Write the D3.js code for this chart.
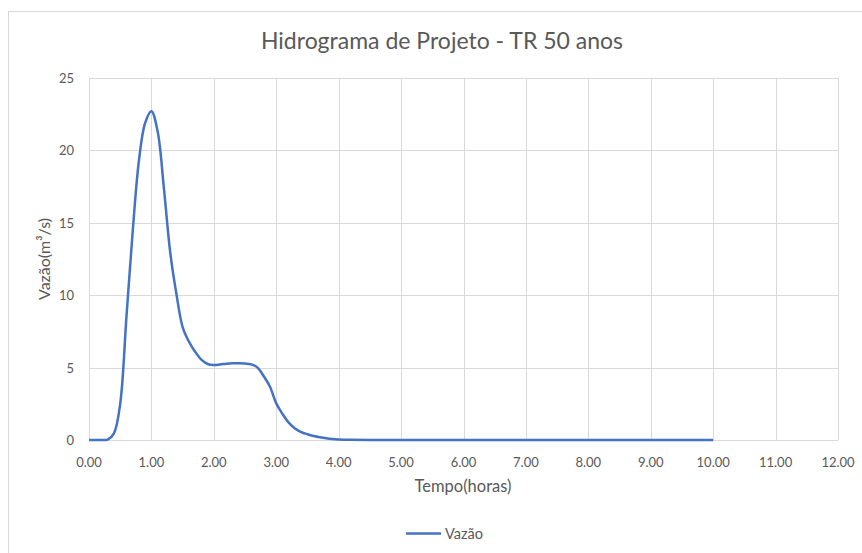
<!DOCTYPE html>
<html>
<head>
<meta charset="utf-8">
<script src="https://cdn.jsdelivr.net/npm/d3@7"></script>
<style>
  body { margin: 0; background: #fff; }
  text { font-family: Lato, "Open Sans", sans-serif; fill: #595959; }
</style>
</head>
<body>
<div id="chart"></div>
<script>
// hydrograph data (hours, m3/s)
const tempo = [0.0, 0.1, 0.2, 0.3, 0.4, 0.5, 0.6, 0.7, 0.8, 0.9,
               1.0, 1.1, 1.2, 1.3, 1.4, 1.5, 1.6, 1.7, 1.8, 1.9,
               2.0, 2.1, 2.2, 2.3, 2.4, 2.5, 2.6, 2.7, 2.8, 2.9,
               3.0, 3.1, 3.2, 3.3, 3.4, 3.5, 3.6, 3.7, 3.8, 3.9,
               4.0, 4.2, 4.5, 5.0, 5.5, 6.0, 6.5, 7.0, 7.5, 8.0,
               8.5, 9.0, 9.5, 10.0];
const vazao = [0, 0, 0, 0.03, 0.46, 2.5, 8.5, 14.4, 19.3, 21.9,
               22.7, 21.3, 17.4, 13.0, 10.1, 7.8, 6.8, 6.1, 5.55, 5.25,
               5.18, 5.22, 5.27, 5.3, 5.3, 5.28, 5.22, 5.0, 4.4, 3.68,
               2.53, 1.8, 1.2, 0.8, 0.55, 0.4, 0.28, 0.19, 0.12, 0.07,
               0.04, 0.015, 0.004, 0, 0, 0, 0, 0, 0, 0,
               0, 0, 0, 0];
const xTicks = [0, 1, 2, 3, 4, 5, 6, 7, 8, 9, 10, 11, 12];
const yTicks = [0, 5, 10, 15, 20, 25];

const W = 862, H = 553;
const margin = { top: 78, right: 24, bottom: 113, left: 89 };

const svg = d3.select("#chart").append("svg")
    .attr("width", W)
    .attr("height", H);

// chart frame
svg.append("rect")
    .attr("x", 8.5).attr("y", 11.5)
    .attr("width", 900).attr("height", 600)
    .attr("fill", "#fff")
    .attr("stroke", "#d9d9d9")
    .attr("stroke-width", 1);

const x = d3.scaleLinear().domain([0, 12]).range([margin.left, W - margin.right]);
const y = d3.scaleLinear().domain([0, 25]).range([H - margin.bottom, margin.top]);

// gridlines
svg.append("g").selectAll("line")
    .data(xTicks)
    .join("line")
    .attr("x1", d => Math.round(x(d)) + 0.5).attr("x2", d => Math.round(x(d)) + 0.5)
    .attr("y1", y(25)).attr("y2", y(0))
    .attr("stroke", "#d9d9d9");

svg.append("g").selectAll("line")
    .data(yTicks)
    .join("line")
    .attr("x1", x(0)).attr("x2", x(12))
    .attr("y1", d => Math.round(y(d)) + 0.5).attr("y2", d => Math.round(y(d)) + 0.5)
    .attr("stroke", "#d9d9d9");

// tick labels
svg.append("g").selectAll("text")
    .data(xTicks)
    .join("text")
    .attr("x", d => x(d))
    .attr("y", y(0) + 27)
    .attr("text-anchor", "middle")
    .style("font-size", "13px")
    .text(d => d3.format(".2f")(d));

svg.append("g").selectAll("text")
    .data(yTicks)
    .join("text")
    .attr("x", x(0) - 15)
    .attr("y", d => y(d) + 5)
    .attr("text-anchor", "end")
    .style("font-size", "13px")
    .text(d => d);

// line (smoothed like the spreadsheet)
const data = tempo.map((t, i) => ({ t: t, v: vazao[i] }));
const line = d3.line()
    .x(d => x(d.t))
    .y(d => Math.min(y(d.v), y(0)))
    .curve(d3.curveCatmullRom.alpha(0.5));

svg.append("path")
    .datum(data)
    .attr("d", line)
    .attr("fill", "none")
    .attr("stroke", "#4472c4")
    .attr("stroke-width", 2.5)
    .attr("stroke-linejoin", "round");

// titles
svg.append("text")
    .attr("x", 442).attr("y", 49)
    .attr("text-anchor", "middle")
    .style("font-size", "23px")
    .text("Hidrograma de Projeto - TR 50 anos");

svg.append("text")
    .attr("x", 463).attr("y", 492)
    .attr("text-anchor", "middle")
    .style("font-size", "16.5px")
    .text("Tempo(horas)");

svg.append("text")
    .attr("transform", "translate(50," + (y(0) + y(25)) / 2 + ") rotate(-90)")
    .attr("text-anchor", "middle")
    .style("font-size", "16px")
    .text("Vazão(m³/s)");

// legend
svg.append("line")
    .attr("x1", 406).attr("x2", 441)
    .attr("y1", 533.5).attr("y2", 533.5)
    .attr("stroke", "#4472c4")
    .attr("stroke-width", 2.5);

svg.append("text")
    .attr("x", 445).attr("y", 538.5)
    .style("font-size", "14.5px")
    .text("Vazão");
</script>
</body>
</html>
